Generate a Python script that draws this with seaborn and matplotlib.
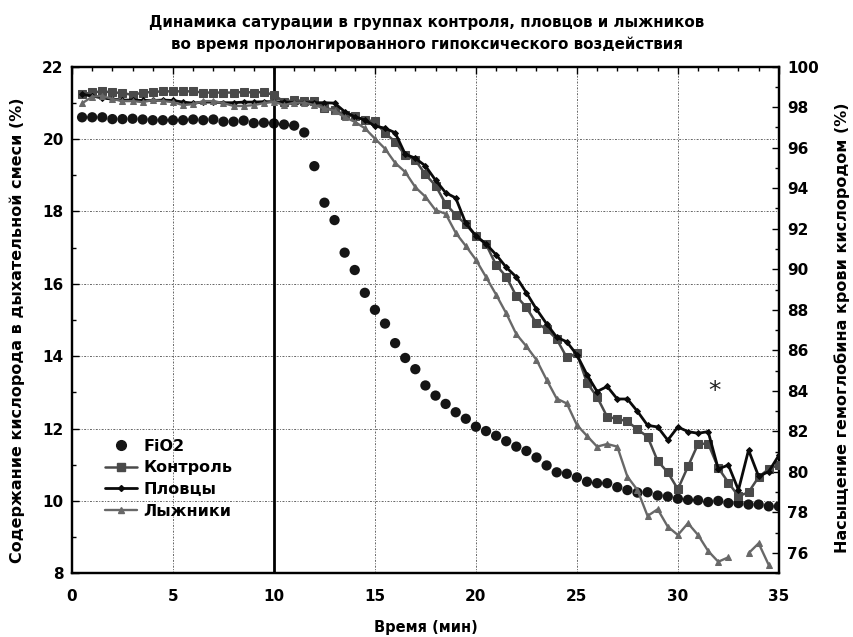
import numpy as np
import pandas as pd
import matplotlib
matplotlib.use("Agg")
import matplotlib.pyplot as plt
from matplotlib.lines import Line2D
from matplotlib.ticker import MultipleLocator
import seaborn as sns

# time grid, minutes
time_min = np.arange(0.5, 35.01, 0.5)

# inspired oxygen fraction, % (left axis)
fio2 = [20.60, 20.60, 20.60, 20.55, 20.55, 20.56, 20.54, 20.52, 20.52, 20.52,
        20.52, 20.54, 20.52, 20.54, 20.48, 20.48, 20.51, 20.44, 20.45, 20.43,
        20.40, 20.37, 20.18, 19.25, 18.24, 17.76, 16.86, 16.38, 15.75, 15.28,
        14.90, 14.36, 13.95, 13.64, 13.19, 12.91, 12.68, 12.45, 12.27, 12.05,
        11.93, 11.80, 11.65, 11.50, 11.38, 11.20, 10.98, 10.79, 10.75, 10.65,
        10.53, 10.49, 10.49, 10.38, 10.30, 10.23, 10.24, 10.15, 10.12, 10.06,
        10.03, 10.02, 9.97, 10.00, 9.94, 9.94, 9.90, 9.90, 9.85, 9.85]

# haemoglobin oxygen saturation, % (right axis)
control = [98.63, 98.73, 98.78, 98.73, 98.70, 98.60, 98.72, 98.75, 98.78, 98.78,
           98.78, 98.78, 98.72, 98.72, 98.72, 98.72, 98.75, 98.72, 98.75, 98.60,
           98.27, 98.35, 98.30, 98.30, 97.97, 97.86, 97.62, 97.55, 97.37, 97.30,
           96.72, 96.30, 95.62, 95.39, 94.68, 94.13, 93.24, 92.68, 92.22, 91.65,
           91.24, 90.21, 89.64, 88.68, 88.12, 87.33, 87.05, 86.55, 85.65, 85.85,
           84.40, 83.70, 82.72, 82.62, 82.50, 82.10, 81.74, 80.54, 79.98, 79.15,
           80.27, 81.38, 81.40, 80.20, 79.48, 78.80, 79.00, 79.75, 80.15, 80.35]

swimmers = [98.63, 98.55, 98.45, 98.40, 98.35, 98.35, 98.33, 98.33, 98.35, 98.33,
            98.25, 98.20, 98.25, 98.25, 98.22, 98.22, 98.25, 98.25, 98.27, 98.27,
            98.25, 98.22, 98.22, 98.22, 98.22, 98.20, 97.78, 97.53, 97.37, 97.07,
            96.96, 96.74, 95.68, 95.48, 95.10, 94.40, 93.78, 93.52, 92.27, 91.65,
            91.25, 90.72, 90.10, 89.62, 88.84, 88.03, 87.31, 86.65, 86.42, 85.78,
            84.80, 83.97, 84.22, 83.60, 83.60, 82.99, 82.30, 82.22, 81.57, 82.22,
            81.99, 81.91, 81.99, 80.15, 80.34, 79.11, 81.08, 79.78, 80.02, 80.82]

skiers = [98.19, 98.52, 98.55, 98.40, 98.30, 98.30, 98.25, 98.35, 98.30, 98.25,
          98.10, 98.15, 98.30, 98.30, 98.20, 98.06, 98.06, 98.10, 98.20, 98.27,
          98.10, 98.22, 98.22, 98.10, 97.94, 97.82, 97.50, 97.28, 96.96, 96.45,
          95.95, 95.25, 94.80, 94.05, 93.58, 92.92, 92.74, 91.80, 91.15, 90.47,
          89.62, 88.75, 87.83, 86.80, 86.20, 85.53, 84.55, 83.62, 83.38, 82.32,
          81.78, 81.25, 81.38, 81.25, 79.77, 79.11, 77.83, 78.16, 77.30, 76.89,
          77.47, 76.89, 76.10, 75.57, 75.79, np.nan, 75.99, 76.48, 75.41, np.nan]

series_names = ["FiO2", "Контроль", "Пловцы", "Лыжники"]
title_lines = ["Динамика сатурации в группах контроля, пловцов и лыжников",
               "во время пролонгированного гипоксического воздействия"]
x_label = "Время (мин)"
left_label = "Содержание кислорода в дыхательной смеси (%)"
right_label = "Насыщение гемоглобина крови кислородом (%)"

sns.set_style("white")
plt.rcParams["font.family"] = ["DejaVu Sans"]
plt.rcParams["font.weight"] = "bold"
plt.rcParams["text.color"] = "black"
plt.rcParams["axes.labelcolor"] = "black"
plt.rcParams["xtick.color"] = "black"
plt.rcParams["ytick.color"] = "black"

fig = plt.figure(figsize=(8.54, 6.37), dpi=100)
ax = fig.add_axes([0.0843, 0.1, 0.8277, 0.7954])
ax2 = ax.twinx()

df_fio2 = pd.DataFrame({"t": time_min, "v": fio2})

# break a series into runs without gaps so lines stop at missing points
def with_runs(values):
    d = pd.DataFrame({"t": time_min, "v": values})
    d["run"] = d["v"].isna().cumsum()
    return d.dropna()

styles = {
    "Контроль": dict(color="#4a4a4a", marker="s", markersize=6, lw=1.8),
    "Пловцы": dict(color="#0a0a0a", marker="D", markersize=3, lw=2.0),
    "Лыжники": dict(color="#686868", marker="^", markersize=5, lw=1.7),
}

sns.scatterplot(data=df_fio2, x="t", y="v", ax=ax, color="#151515", s=55,
                edgecolor="none", zorder=3, legend=False)

for name, vals in zip(series_names[1:], [control, swimmers, skiers]):
    st = styles[name]
    sns.lineplot(data=with_runs(vals), x="t", y="v", units="run", estimator=None,
                 ax=ax2, color=st["color"], lw=st["lw"], marker=st["marker"],
                 markersize=st["markersize"], markeredgecolor=st["color"],
                 markerfacecolor=st["color"], legend=False, zorder=3)

ax.axvline(10, color="black", lw=2, zorder=4)

ax.set_xlim(0, 35)
ax.set_ylim(8, 22)
ax2.set_ylim(75, 100)
ax.xaxis.set_major_locator(MultipleLocator(5))
ax.xaxis.set_minor_locator(MultipleLocator(1))
ax.yaxis.set_major_locator(MultipleLocator(2))
ax.yaxis.set_minor_locator(MultipleLocator(1))
ax2.yaxis.set_minor_locator(MultipleLocator(1))
ax2.set_yticks(np.arange(76, 101, 2))

grid_style = dict(color="#666666", lw=0.7, linestyle=(0, (2, 1.5, 1, 1.5)))
ax.grid(True, which="major", **grid_style)
ax.set_axisbelow(True)

for a in (ax, ax2):
    for sp in a.spines.values():
        sp.set_color("black")
        sp.set_linewidth(1.6)

ax.tick_params(axis="both", which="major", direction="in", length=5, width=1,
               labelsize=11, top=True, color="black", labelcolor="black", pad=6)
ax.tick_params(axis="both", which="minor", direction="in", length=3, width=1,
               top=True, color="black")
ax.tick_params(axis="x", which="major", pad=11)
ax2.tick_params(axis="y", which="major", direction="in", length=5, width=1,
                labelsize=11, color="black", labelcolor="black", pad=6)
ax2.tick_params(axis="y", which="minor", direction="in", length=3, width=1,
                color="black")
for lab in ax.get_xticklabels() + ax.get_yticklabels() + ax2.get_yticklabels():
    lab.set_fontweight("bold")

ax.set_xlabel(x_label, fontsize=10.5, fontweight="bold", labelpad=12)
ax.set_ylabel(left_label, fontsize=11.5, fontweight="bold")
ax2.set_ylabel(right_label, fontsize=11.5, fontweight="bold")
ax.yaxis.set_label_coords(-0.0665, 0.48)
ax2.yaxis.set_label_coords(1.079, 0.484)

fig.text(0.5, 0.965, title_lines[0], ha="center", va="center",
         fontsize=10.9, fontweight="bold", color="black")
fig.text(0.5, 0.930, title_lines[1], ha="center", va="center",
         fontsize=10.9, fontweight="bold", color="black")

ax2.text(31.8, 84.0, "*", ha="center", va="center", fontsize=18,
         fontweight="normal", color="#222222")

handles = [
    Line2D([], [], ls="none", marker="o", color="#151515", markersize=7),
]
for name in series_names[1:]:
    st = styles[name]
    handles.append(Line2D([], [], color=st["color"], lw=st["lw"],
                          marker=st["marker"], markersize=st["markersize"]))
leg = ax2.legend(handles, series_names, loc="lower left",
                 bbox_to_anchor=(0.038, 0.095), frameon=False, fontsize=11.5,
                 handlelength=2.0, handletextpad=0.4, labelspacing=0.42,
                 borderaxespad=0)
for t in leg.get_texts():
    t.set_fontweight("bold")
    t.set_color("black")

fig.savefig("out.png", dpi=100)
